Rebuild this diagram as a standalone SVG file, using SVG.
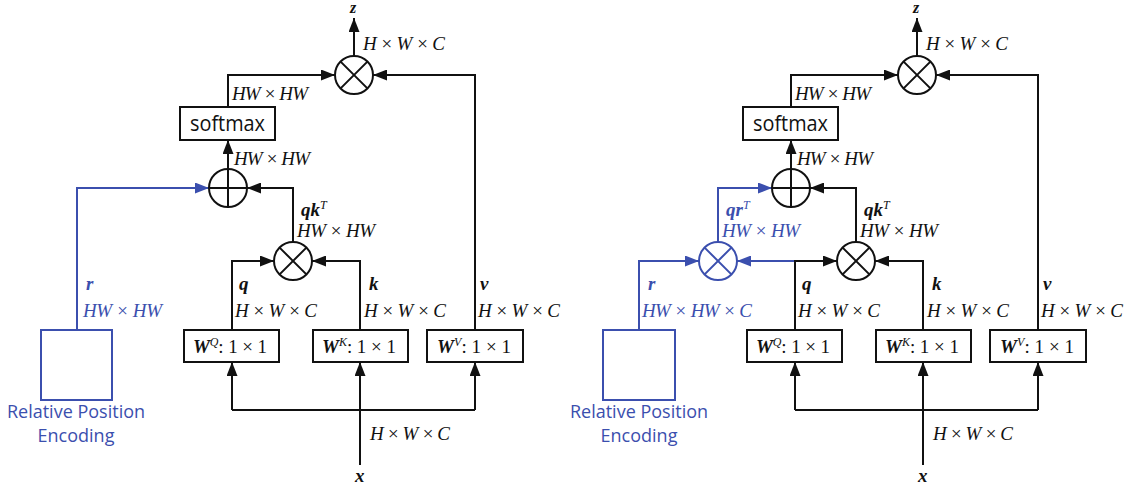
<svg xmlns="http://www.w3.org/2000/svg" width="1128" height="486" viewBox="0 0 1128 486">
<style>
.ln{stroke:#111;stroke-width:2;fill:none}
.bl{stroke:#3B4FAE;stroke-width:2;fill:none}
.nd{stroke:#111;stroke-width:2;fill:#fff}
.nb{stroke:#3B4FAE;stroke-width:2;fill:#fff}
.m{font-family:"Liberation Serif",serif;font-style:italic;font-size:19px;fill:#111}
.bm{font-family:"Liberation Serif",serif;font-style:italic;font-weight:bold;font-size:19px;fill:#111}
.zl{font-size:16px}
.sup{font-size:12px;font-weight:normal}
.blu{fill:#3B4FAE}
.s{font-family:"Open Sans",sans-serif;font-size:21px;fill:#111}
.sb{font-family:"Open Sans",sans-serif;font-size:18px;fill:#3B4FAE}
</style>
<defs>
<marker id="ah" markerUnits="userSpaceOnUse" markerWidth="14" markerHeight="11" refX="14" refY="5.5" orient="auto"><path d="M0,0 L14,5.5 L0,11 z" fill="#111"/></marker>
<marker id="ahb" markerUnits="userSpaceOnUse" markerWidth="14" markerHeight="11" refX="14" refY="5.5" orient="auto"><path d="M0,0 L14,5.5 L0,11 z" fill="#3B4FAE"/></marker>
<symbol id="mul" overflow="visible"><circle cx="0" cy="0" r="19"/><path d="M-13.4,-13.4 L13.4,13.4 M-13.4,13.4 L13.4,-13.4"/></symbol>
<symbol id="add" overflow="visible"><circle cx="0" cy="0" r="19"/><path d="M-19,0 H19 M0,-19 V19"/></symbol>
</defs>
<rect width="1128" height="486" fill="#fff"/>

<!-- LEFT DIAGRAM -->
<g id="connectors-left">
<path class="ln" d="M354,56 V18" marker-end="url(#ah)"/>
<path class="ln" d="M228,107 V75 H335" marker-end="url(#ah)"/>
<path class="ln" d="M228,169 V140" marker-end="url(#ah)"/>
<path class="ln" d="M293,242 V188 H247" marker-end="url(#ah)"/>
<path class="bl" d="M77,330 V188 H209" marker-end="url(#ahb)"/>
<path class="ln" d="M232,330 V261 H274" marker-end="url(#ah)"/>
<path class="ln" d="M360,330 V261 H312" marker-end="url(#ah)"/>
<path class="ln" d="M475,330 V75 H373" marker-end="url(#ah)"/>
<path class="ln" d="M360,465 V362" marker-end="url(#ah)"/>
<path class="ln" d="M232,410 H475"/>
<path class="ln" d="M232,410 V362" marker-end="url(#ah)"/>
<path class="ln" d="M475,410 V362" marker-end="url(#ah)"/>
</g>
<g id="L-mul-out" class="nd"><use href="#mul" x="354" y="75"/></g>
<g id="L-softmax"><rect class="nd" x="180" y="107" width="95" height="33"/><text class="s" x="190" y="131" textLength="75" lengthAdjust="spacingAndGlyphs">softmax</text></g>
<g id="L-add" class="nd"><use href="#add" x="228" y="188"/></g>
<g id="L-mul-qk" class="nd"><use href="#mul" x="293" y="261"/></g>
<g id="L-WQ"><rect class="nd" x="184" y="330" width="95" height="32"/><text class="bm" x="193" y="353" textLength="74"><tspan>W</tspan><tspan class="sup" dy="-7">Q</tspan><tspan dy="7" font-style="normal" font-weight="normal">: 1 × 1</tspan></text></g>
<g id="L-WK"><rect class="nd" x="313" y="330" width="95" height="32"/><text class="bm" x="322" y="353" textLength="74"><tspan>W</tspan><tspan class="sup" dy="-7">K</tspan><tspan dy="7" font-style="normal" font-weight="normal">: 1 × 1</tspan></text></g>
<g id="L-WV"><rect class="nd" x="427" y="330" width="96" height="32"/><text class="bm" x="437" y="353" textLength="74"><tspan>W</tspan><tspan class="sup" dy="-7">V</tspan><tspan dy="7" font-style="normal" font-weight="normal">: 1 × 1</tspan></text></g>
<g id="L-RPE"><rect class="nb" x="41" y="330" width="71" height="70"/><text class="sb" x="76" y="418" text-anchor="middle">Relative Position</text><text class="sb" x="76" y="442" text-anchor="middle">Encoding</text></g>
<g id="L-labels">
<text class="bm zl" x="350" y="13">z</text>
<text class="m" x="363" y="50" textLength="82">H × W × C</text>
<text class="m" x="232" y="100" textLength="76">HW × HW</text>
<text class="m" x="234" y="165" textLength="76">HW × HW</text>
<text class="bm" x="301" y="216">qk<tspan class="sup" dy="-7" font-style="italic">T</tspan></text>
<text class="m" x="297" y="237" textLength="78">HW × HW</text>
<text class="bm blu" x="86" y="290">r</text>
<text class="m blu" x="83" y="317" textLength="79">HW × HW</text>
<text class="bm" x="239" y="290">q</text>
<text class="m" x="235" y="317" textLength="82">H × W × C</text>
<text class="bm" x="369" y="290">k</text>
<text class="m" x="364" y="317" textLength="82">H × W × C</text>
<text class="bm" x="480" y="290">v</text>
<text class="m" x="478" y="317" textLength="82">H × W × C</text>
<text class="m" x="370" y="440" textLength="80">H × W × C</text>
<text class="bm" x="355" y="482">x</text>
</g>

<!-- RIGHT DIAGRAM -->
<g id="connectors-right">
<path class="ln" d="M917,56 V18" marker-end="url(#ah)"/>
<path class="ln" d="M791,107 V75 H898" marker-end="url(#ah)"/>
<path class="ln" d="M791,169 V140" marker-end="url(#ah)"/>
<path class="ln" d="M856,242 V188 H810" marker-end="url(#ah)"/>
<path class="bl" d="M639,330 V261 H699" marker-end="url(#ahb)"/>
<path class="bl" d="M718,242 V188 H772" marker-end="url(#ahb)"/>
<path class="bl" d="M795,261 H737" marker-end="url(#ahb)"/>
<path class="ln" d="M795,330 V261 H837" marker-end="url(#ah)"/>
<path class="ln" d="M923,330 V261 H875" marker-end="url(#ah)"/>
<path class="ln" d="M1038,330 V75 H936" marker-end="url(#ah)"/>
<path class="ln" d="M923,465 V362" marker-end="url(#ah)"/>
<path class="ln" d="M795,410 H1038"/>
<path class="ln" d="M795,410 V362" marker-end="url(#ah)"/>
<path class="ln" d="M1038,410 V362" marker-end="url(#ah)"/>
</g>
<g id="R-mul-out" class="nd"><use href="#mul" x="917" y="75"/></g>
<g id="R-softmax"><rect class="nd" x="743" y="107" width="95" height="33"/><text class="s" x="753" y="131" textLength="75" lengthAdjust="spacingAndGlyphs">softmax</text></g>
<g id="R-add" class="nd"><use href="#add" x="791" y="188"/></g>
<g id="R-mul-qk" class="nd"><use href="#mul" x="856" y="261"/></g>
<g id="R-mul-qr" class="nb"><use href="#mul" x="718" y="261"/></g>
<g id="R-WQ"><rect class="nd" x="747" y="330" width="95" height="32"/><text class="bm" x="756" y="353" textLength="74"><tspan>W</tspan><tspan class="sup" dy="-7">Q</tspan><tspan dy="7" font-style="normal" font-weight="normal">: 1 × 1</tspan></text></g>
<g id="R-WK"><rect class="nd" x="876" y="330" width="95" height="32"/><text class="bm" x="885" y="353" textLength="74"><tspan>W</tspan><tspan class="sup" dy="-7">K</tspan><tspan dy="7" font-style="normal" font-weight="normal">: 1 × 1</tspan></text></g>
<g id="R-WV"><rect class="nd" x="990" y="330" width="96" height="32"/><text class="bm" x="1000" y="353" textLength="74"><tspan>W</tspan><tspan class="sup" dy="-7">V</tspan><tspan dy="7" font-style="normal" font-weight="normal">: 1 × 1</tspan></text></g>
<g id="R-RPE"><rect class="nb" x="603" y="330" width="72" height="70"/><text class="sb" x="639" y="418" text-anchor="middle">Relative Position</text><text class="sb" x="639" y="442" text-anchor="middle">Encoding</text></g>
<g id="R-labels">
<text class="bm zl" x="913" y="13">z</text>
<text class="m" x="926" y="50" textLength="82">H × W × C</text>
<text class="m" x="795" y="100" textLength="76">HW × HW</text>
<text class="m" x="797" y="165" textLength="76">HW × HW</text>
<text class="bm" x="864" y="216">qk<tspan class="sup" dy="-7" font-style="italic">T</tspan></text>
<text class="m" x="860" y="237" textLength="78">HW × HW</text>
<text class="bm blu" x="726" y="216">qr<tspan class="sup" dy="-7" font-style="italic">T</tspan></text>
<text class="m blu" x="722" y="237" textLength="78">HW × HW</text>
<text class="bm blu" x="648" y="290">r</text>
<text class="m blu" x="642" y="317" textLength="110">HW × HW × C</text>
<text class="bm" x="802" y="290">q</text>
<text class="m" x="798" y="317" textLength="82">H × W × C</text>
<text class="bm" x="932" y="290">k</text>
<text class="m" x="927" y="317" textLength="82">H × W × C</text>
<text class="bm" x="1043" y="290">v</text>
<text class="m" x="1041" y="317" textLength="82">H × W × C</text>
<text class="m" x="933" y="440" textLength="80">H × W × C</text>
<text class="bm" x="918" y="482">x</text>
</g>
</svg>
